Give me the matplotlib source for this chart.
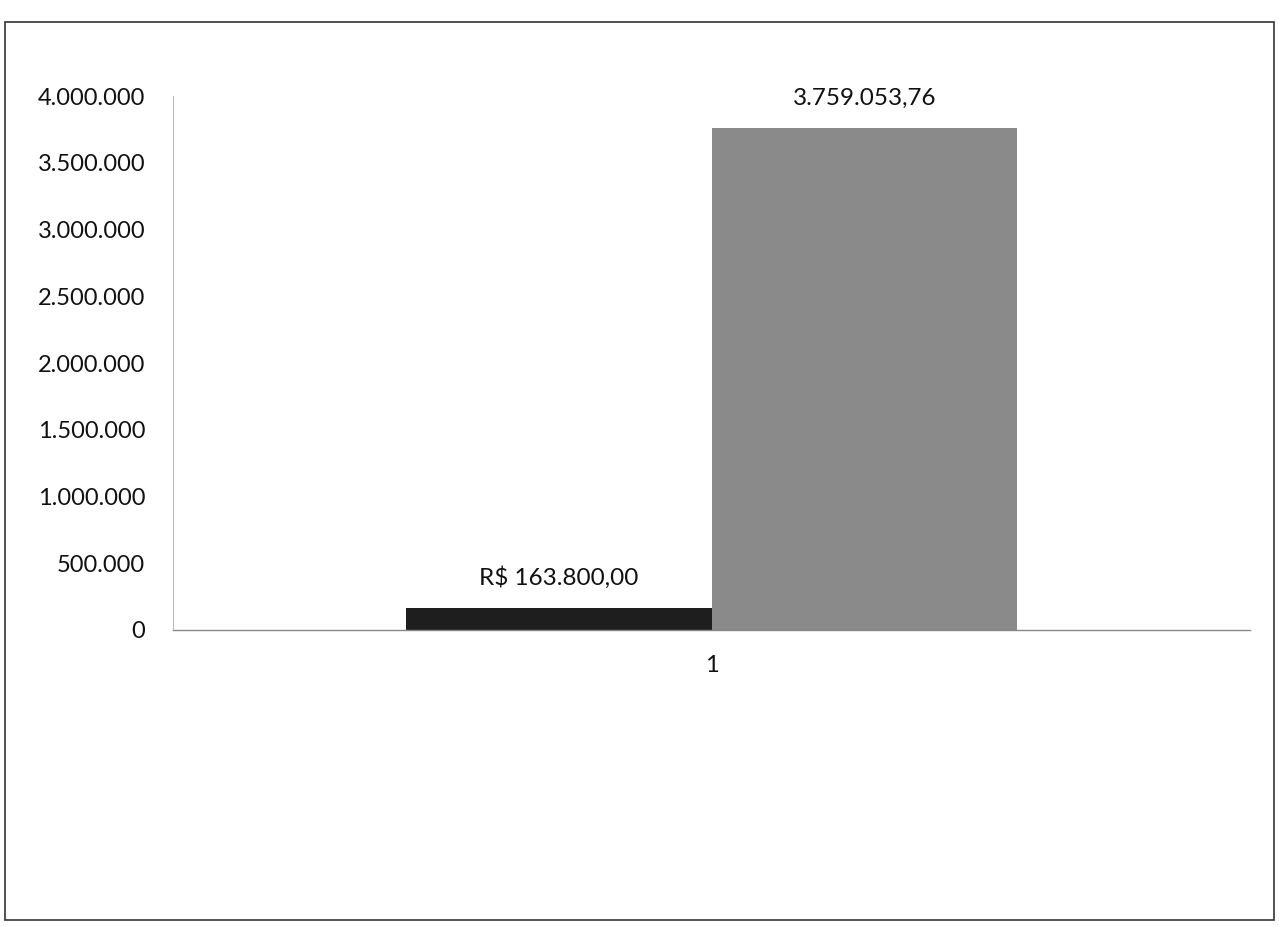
import matplotlib.pyplot as plt
from matplotlib.patches import Rectangle
from matplotlib.ticker import FuncFormatter

categories = ["1"]
serie_a = [163800.00]
serie_b = [3759053.76]
rotulos = ["R$ 163.800,00", "3.759.053,76"]

plt.rcParams['font.family'] = ['Lato', 'DejaVu Sans']

fig = plt.figure(figsize=(12.79, 9.27), dpi=100)
# moldura em volta do grafico
fig.patches.append(Rectangle((0.004, 0.008), 0.992, 0.968, transform=fig.transFigure,
                             fill=False, edgecolor='#333333', linewidth=1.2))

ax = fig.add_axes([0.1353, 0.3204, 0.842, 0.576])

x = range(len(categories))
w = 0.284
b1 = ax.bar([i - w / 2 for i in x], serie_a, width=w, color='#1e1e1e')
b2 = ax.bar([i + w / 2 for i in x], serie_b, width=w, color='#8a8a8a')

ax.set_xlim(-0.5, 0.5)
ax.set_ylim(0, 4000000)
ax.set_yticks(range(0, 4000001, 500000))
ax.yaxis.set_major_formatter(FuncFormatter(lambda v, p: f"{int(v):,}".replace(",", ".")))
ax.set_xticks(list(x))
ax.set_xticklabels(categories)

ax.tick_params(axis='both', length=0, labelsize=17, colors='#111111')
ax.tick_params(axis='y', pad=20)
ax.tick_params(axis='x', pad=18)

for s in ['top', 'right']:
    ax.spines[s].set_visible(False)
ax.spines['left'].set_color('#bbbbbb')
ax.spines['left'].set_linewidth(0.8)
ax.spines['bottom'].set_color('#888888')
ax.spines['bottom'].set_linewidth(1.0)

for bars, lab in zip([b1, b2], rotulos):
    r = bars[0]
    ax.annotate(lab, (r.get_x() + r.get_width() / 2, r.get_height()),
                xytext=(0, 14), textcoords='offset points', ha='center', va='bottom',
                fontsize=17.5, color='#111111')

fig.savefig('out.png', dpi=100)
